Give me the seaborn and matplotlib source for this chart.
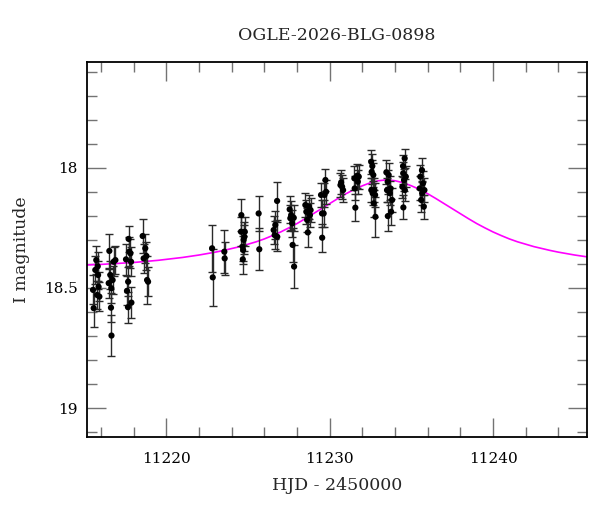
import matplotlib
matplotlib.use('Agg')
import matplotlib.pyplot as plt
from matplotlib.ticker import MultipleLocator, FormatStrFormatter
import seaborn as sns
import pandas as pd

# 1. 관측 데이터 (HJD - 2450000, I 등급, 오차)
hjd = [
    11215.51, 11215.55, 11215.65, 11215.71, 11215.76, 11215.80, 11215.82, 11215.85, 11215.90,
    11216.47, 11216.51, 11216.57, 11216.61, 11216.63, 11216.64, 11216.71, 11216.77, 11216.88,
    11217.53, 11217.59, 11217.65, 11217.66, 11217.69, 11217.73, 11217.80, 11217.84, 11217.86,
    11218.55, 11218.61, 11218.71, 11218.78, 11218.82, 11218.88,
    11222.80, 11222.84,
    11223.55, 11223.57,
    11224.57, 11224.59, 11224.67, 11224.68, 11224.70, 11224.73, 11224.78, 11224.80,
    11225.65, 11225.69,
    11226.57, 11226.63, 11226.67, 11226.78, 11226.79,
    11227.55, 11227.59, 11227.64, 11227.70, 11227.73, 11227.80, 11227.82,
    11228.51, 11228.57, 11228.62, 11228.66, 11228.73, 11228.79, 11228.83,
    11229.47, 11229.53, 11229.54, 11229.63, 11229.68, 11229.74, 11229.78,
    11230.66, 11230.70, 11230.76, 11230.82,
    11231.51, 11231.53, 11231.57, 11231.68, 11231.72, 11231.78,
    11232.54, 11232.55, 11232.57, 11232.61, 11232.63, 11232.67, 11232.70, 11232.74, 11232.78, 11232.80,
    11233.47, 11233.51, 11233.55, 11233.56, 11233.61, 11233.68, 11233.72, 11233.76, 11233.82,
    11234.45, 11234.49, 11234.50, 11234.51, 11234.55, 11234.59, 11234.60, 11234.66,
    11235.51, 11235.55, 11235.60, 11235.65, 11235.66, 11235.71, 11235.76, 11235.80,
]
mag = [
    18.508, 18.584, 18.425, 18.384, 18.529, 18.410, 18.446, 18.495, 18.536,
    18.480, 18.346, 18.446, 18.582, 18.501, 18.698, 18.467, 18.391, 18.384,
    18.381, 18.512, 18.580, 18.474, 18.296, 18.349, 18.356, 18.391, 18.561,
    18.284, 18.377, 18.335, 18.367, 18.467, 18.474,
    18.335, 18.456,
    18.349, 18.377,
    18.266, 18.197, 18.328, 18.381, 18.342, 18.300, 18.287, 18.266,
    18.190, 18.339,
    18.259, 18.280, 18.238, 18.138, 18.287,
    18.173, 18.210, 18.197, 18.231, 18.321, 18.208, 18.411,
    18.155, 18.183, 18.217, 18.269, 18.162, 18.197, 18.176,
    18.113, 18.190, 18.291, 18.190, 18.113, 18.051, 18.100,
    18.072, 18.061, 18.079, 18.093,
    18.044, 18.086, 18.166, 18.033, 18.058, 18.037,
    17.975, 18.093, 18.017, 17.993, 18.106, 18.030, 18.148, 18.093, 18.113, 18.204,
    18.019, 18.093, 18.058, 18.201, 18.030, 18.106, 18.086, 18.183, 18.134,
    18.079, 17.993, 18.023, 18.165, 18.051, 17.961, 18.093, 18.037,
    18.086, 18.037, 18.134, 18.010, 18.106, 18.065, 18.162, 18.093,
]
err = [
    0.060, 0.080, 0.060, 0.060, 0.060, 0.060, 0.060, 0.060, 0.060,
    0.060, 0.070, 0.060, 0.060, 0.060, 0.085, 0.060, 0.060, 0.060,
    0.065, 0.060, 0.065, 0.060, 0.055, 0.060, 0.060, 0.060, 0.065,
    0.072, 0.060, 0.060, 0.060, 0.100, 0.060,
    0.098, 0.120,
    0.090, 0.070,
    0.060, 0.065, 0.060, 0.060, 0.060, 0.060, 0.060, 0.060,
    0.074, 0.087,
    0.060, 0.060, 0.060, 0.080, 0.060,
    0.055, 0.055, 0.060, 0.055, 0.070, 0.055, 0.090,
    0.050, 0.050, 0.050, 0.060, 0.050, 0.050, 0.050,
    0.050, 0.055, 0.058, 0.055, 0.050, 0.046, 0.050,
    0.050, 0.050, 0.050, 0.050,
    0.050, 0.050, 0.055, 0.050, 0.050, 0.050,
    0.050, 0.050, 0.050, 0.050, 0.050, 0.050, 0.055, 0.050, 0.050, 0.083,
    0.050, 0.050, 0.050, 0.060, 0.050, 0.050, 0.050, 0.055, 0.050,
    0.045, 0.045, 0.045, 0.050, 0.045, 0.040, 0.045, 0.045,
    0.050, 0.050, 0.050, 0.050, 0.050, 0.050, 0.050, 0.050,
]

# 2. 모델 곡선 (그림에서 읽은 값, 0.5일 간격)
model_hjd = [
    11215.0, 11215.5, 11216.0, 11216.5, 11217.0, 11217.5, 11218.0, 11218.5,
    11219.0, 11219.5, 11220.0, 11220.5, 11221.0, 11221.5, 11222.0, 11222.5,
    11223.0, 11223.5, 11224.0, 11224.5, 11225.0, 11225.5, 11226.0, 11226.5,
    11227.0, 11227.5, 11228.0, 11228.5, 11229.0, 11229.5, 11230.0, 11230.5,
    11231.0, 11231.5, 11232.0, 11232.5, 11233.0, 11233.5, 11234.0, 11234.5,
    11235.0, 11235.5, 11236.0, 11236.5, 11237.0, 11237.5, 11238.0, 11238.5,
    11239.0, 11239.5, 11240.0, 11240.5, 11241.0, 11241.5, 11242.0, 11242.5,
    11243.0, 11243.5, 11244.0, 11244.5, 11245.0, 11245.5, 11246.0,
]
model_mag = [
    18.405, 18.403, 18.402, 18.400, 18.398, 18.396, 18.394, 18.391,
    18.388, 18.385, 18.381, 18.377, 18.373, 18.368, 18.363, 18.357,
    18.351, 18.344, 18.336, 18.328, 18.318, 18.308, 18.296, 18.282,
    18.267, 18.250, 18.232, 18.212, 18.191, 18.170, 18.149, 18.128,
    18.108, 18.090, 18.075, 18.062, 18.054, 18.050, 18.054, 18.062,
    18.075, 18.090, 18.108, 18.128, 18.149, 18.170, 18.191, 18.212,
    18.232, 18.250, 18.267, 18.282, 18.296, 18.308, 18.318, 18.328,
    18.336, 18.344, 18.351, 18.357, 18.363, 18.368, 18.373,
]

df = pd.DataFrame({'hjd': hjd, 'mag': mag, 'err': err})
df_model = pd.DataFrame({'hjd': model_hjd, 'mag': model_mag})

# 3. 스타일
sns.set_theme(style='ticks')
plt.rcParams['font.family'] = ['DejaVu Serif']

fig = plt.figure(figsize=(6, 5.12), dpi=100)
ax = fig.add_axes([0.1455, 0.1465, 0.8333, 0.7324])

# 4. 그리기
sns.lineplot(data=df_model, x='hjd', y='mag', color='#ff00ff', lw=1.2,
             sort=False, ax=ax, zorder=1)
ax.errorbar(df['hjd'], df['mag'], yerr=df['err'], fmt='none',
            ecolor='#2a2a2a', elinewidth=1.0, capsize=3, capthick=1.0, zorder=2)
sns.scatterplot(data=df, x='hjd', y='mag', color='black', s=20,
                edgecolor='none', ax=ax, zorder=3)

# 5. 축 꾸미기
ax.set_xlim(11215.16, 11245.77)
ax.set_ylim(19.12, 17.56)
ax.xaxis.set_major_locator(MultipleLocator(10))
ax.xaxis.set_minor_locator(MultipleLocator(2))
ax.yaxis.set_major_locator(MultipleLocator(0.5))
ax.yaxis.set_minor_locator(MultipleLocator(0.1))
ax.yaxis.set_major_formatter(FormatStrFormatter('%g'))

ax.tick_params(which='both', direction='in', top=True, right=True,
               color='0.45', width=1.0, labelsize=11, labelcolor='black')
ax.tick_params(which='major', length=13.5)
ax.tick_params(which='minor', length=7)
ax.tick_params(axis='x', which='major', pad=11)
ax.tick_params(axis='y', which='major', pad=7)

for side in ax.spines.values():
    side.set_color('black')
    side.set_linewidth(1.3)

ax.set_xlabel('HJD - 2450000', fontsize=12.5, labelpad=8)
ax.set_ylabel('I magnitude', fontsize=12.5, labelpad=10)
fig.text(0.5617, 1 - 35 / 512, 'OGLE-2026-BLG-0898', ha='center', va='center',
         fontsize=12.5)

fig.savefig('out.png', dpi=100)
